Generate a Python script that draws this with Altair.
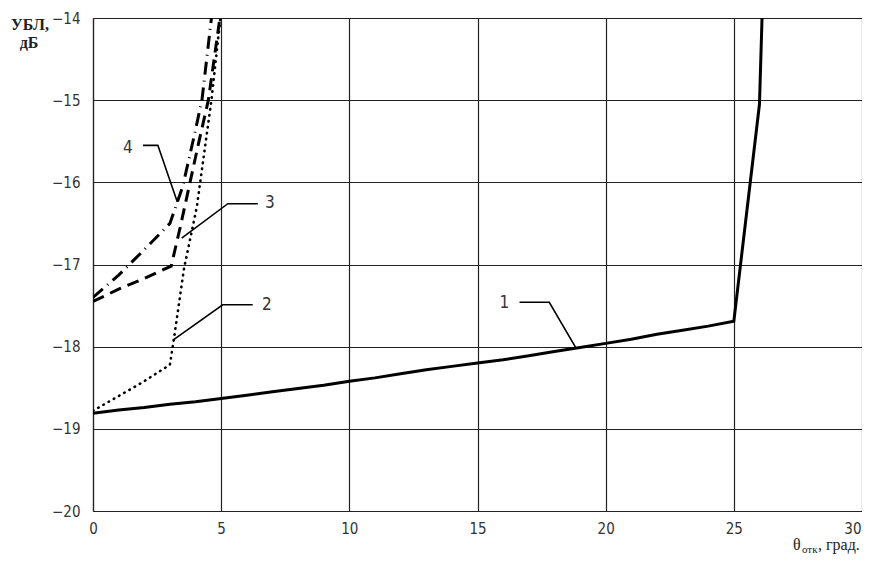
import altair as alt
import pandas as pd

# ---------------- data ----------------
c1_x = [0, 1, 2, 3, 4, 5, 6, 7, 8, 9, 10, 11, 12, 13, 14, 15, 16, 17, 18, 19, 20,
        21, 22, 23, 24, 25, 26, 26.1]
c1_y = [-18.81, -18.77, -18.74, -18.70, -18.67, -18.63, -18.59, -18.55, -18.51, -18.47,
        -18.42, -18.38, -18.33, -18.28, -18.24, -18.20, -18.16, -18.11, -18.06, -18.01,
        -17.96, -17.91, -17.85, -17.80, -17.75, -17.69, -15.05, -14.0]

c2_x = [0, 1, 2, 3, 3.15, 3.55, 4.05, 4.62, 4.97]
c2_y = [-18.78, -18.6, -18.42, -18.22, -17.92, -17.05, -16.3, -15.0, -14.0]

c3_x = [0, 1, 2, 3.05, 3.4, 3.75, 4.1, 4.5, 4.95]
c3_y = [-17.45, -17.3, -17.17, -17.02, -16.55, -16.05, -15.55, -15.0, -14.0]

c4_x = [0, 1, 2, 3, 3.5, 3.9, 4.25, 4.62]
c4_y = [-17.4, -17.13, -16.82, -16.5, -16.05, -15.5, -15.0, -14.0]

# curve number labels and their leader lines (data units)
lab_text = ["1", "2", "3", "4"]
lab_x = [16.05, 6.78, 6.9, 1.36]
lab_y = [-17.47, -17.49, -16.25, -15.58]

lead1_x = [16.64, 17.8, 18.85]
lead1_y = [-17.46, -17.46, -18.02]
lead2_x = [6.23, 5.06, 3.12]
lead2_y = [-17.49, -17.49, -17.92]
lead3_x = [6.43, 5.26, 3.46]
lead3_y = [-16.26, -16.26, -16.68]
lead4_x = [1.95, 2.53, 3.29]
lead4_y = [-15.55, -15.55, -16.24]

X_TICKS = [0, 5, 10, 15, 20, 25, 30]
Y_TICKS = [-20, -19, -18, -17, -16, -15, -14]

# ---------------- chart ----------------
NARROW = "Liberation Sans Narrow, DejaVu Sans Condensed, Roboto, sans-serif"
SERIF = "Liberation Serif, DejaVu Serif, serif"

xs = alt.Scale(domain=[0, 30], nice=False, zero=False)
ys = alt.Scale(domain=[-20, -14], nice=False, zero=False)

x_axis = alt.Axis(values=X_TICKS, grid=True, gridColor="#222", gridWidth=1.2, ticks=False,
                  domainColor="#222", domainWidth=1.2, labelFont=NARROW, labelFontSize=15,
                  labelColor="#333", labelPadding=10, labelFlush=False, title=None,
                  labelAlign=alt.ExprRef("datum.value == 30 ? 'right' : 'center'"),
                  labelOffset=alt.ExprRef("datum.value == 30 ? -1 : 0"))
y_axis = alt.Axis(values=Y_TICKS, grid=True, gridColor="#222", gridWidth=1.2, ticks=False,
                  domainColor="#222", domainWidth=1.2, labelFont=NARROW, labelFontSize=15,
                  labelColor="#333", labelPadding=13, labelFlush=False, title=None)


def enc(ch):
    return ch.encode(
        x=alt.X("x:Q", scale=xs, axis=x_axis),
        y=alt.Y("y:Q", scale=ys, axis=y_axis),
        order="o:Q",
    )


def series(xv, yv):
    return pd.DataFrame({"x": xv, "y": yv, "o": list(range(len(xv)))})


layers = []
layers.append(enc(alt.Chart(series(c1_x, c1_y)).mark_line(
    color="black", strokeWidth=3, clip=True)))
layers.append(enc(alt.Chart(series(c2_x, c2_y)).mark_line(
    color="black", strokeWidth=2.6, strokeDash=[0.5, 5.5], strokeCap="round", clip=True)))
layers.append(enc(alt.Chart(series(c3_x, c3_y)).mark_line(
    color="black", strokeWidth=3, strokeDash=[12, 7], clip=True)))
layers.append(enc(alt.Chart(series(c4_x, c4_y)).mark_line(
    color="black", strokeWidth=3, strokeDash=[13, 6, 1, 6], strokeCap="butt", clip=True)))

for lx, ly in [(lead1_x, lead1_y), (lead2_x, lead2_y), (lead3_x, lead3_y), (lead4_x, lead4_y)]:
    layers.append(enc(alt.Chart(series(lx, ly)).mark_line(color="black", strokeWidth=1.6)))

labels_df = pd.DataFrame({"x": lab_x, "y": lab_y, "t": lab_text, "o": [0, 1, 2, 3]})
layers.append(enc(alt.Chart(labels_df).mark_text(
    font=NARROW, fontSize=17, color="#333", align="center", baseline="middle")).encode(text="t:N"))

# axis titles
title_df = pd.DataFrame({"t": ["УБЛ,", "дБ"], "px": [-63, -64], "py": [12, 30]})
for i in range(2):
    layers.append(alt.Chart(title_df.iloc[[i]]).mark_text(
        font=SERIF, fontSize=16, fontWeight="bold", color="#222", align="center",
        baseline="alphabetic").encode(
        text="t:N", x=alt.value(int(title_df.px[i])), y=alt.value(int(title_df.py[i]))))

xt_df = pd.DataFrame({"t": ["θ", "отк", ", град."], "px": [700, 709, 725], "py": [532, 535, 532],
                      "fs": [16, 11, 16]})
for i in range(3):
    layers.append(alt.Chart(xt_df.iloc[[i]]).mark_text(
        font=SERIF, fontSize=int(xt_df.fs[i]), color="#222", align="left",
        baseline="alphabetic").encode(
        text="t:N", x=alt.value(int(xt_df.px[i])), y=alt.value(int(xt_df.py[i]))))

chart = alt.layer(*layers).properties(
    width=769, height=493,
    autosize=alt.AutoSizeParams(type="none"),
    padding={"left": 85, "top": 10, "right": 0, "bottom": 43},
).configure_view(stroke="#444", strokeWidth=1.2).configure(background="white")

chart.save("out.html", embed_options={"renderer": "svg", "actions": False})
